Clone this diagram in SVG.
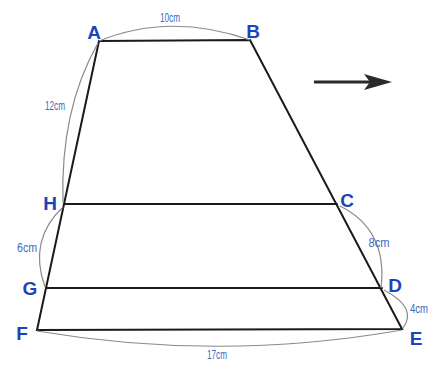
<svg xmlns="http://www.w3.org/2000/svg" width="438" height="372" viewBox="0 0 438 372">
<style>
.edge{stroke:#1a1a1a;stroke-width:2;fill:none;stroke-linecap:round}
.dim{stroke:#8a8a8a;stroke-width:1.2;fill:none}
.pt{font-family:"Liberation Sans",Arial,sans-serif;font-size:19px;font-weight:bold;fill:#1c44b8;text-anchor:middle}
.dl{font-family:"Liberation Sans",Arial,sans-serif;font-size:12px;fill:#3a68c4;text-anchor:middle}
</style>
<rect width="438" height="372" fill="#ffffff"/>
<g id="connectors">
<path class="edge" d="M99,41 L250,40 L402,329 L37,330 Z"/>
<line class="edge" x1="64" y1="204" x2="337" y2="204"/>
<line class="edge" x1="46" y1="288" x2="382" y2="288"/>
<path class="dim" d="M99,41 Q170,12 250,40"/>
<path class="dim" d="M98,43 Q60,110 63,203"/>
<path class="dim" d="M63,207 Q28,240 45,287"/>
<path class="dim" d="M340,206 Q388,230 381,288"/>
<path class="dim" d="M384,290 Q418,308 403,328"/>
<path class="dim" d="M37,331 Q220,362 402,330"/>
<line x1="314" y1="82" x2="380" y2="82" stroke="#2a2a2a" stroke-width="3"/>
<path d="M364,74 L392,82 L364,90 L370,82 Z" fill="#2a2a2a"/>
</g>
<g id="node-A"><text class="pt" x="94" y="39">A</text></g>
<g id="node-B"><text class="pt" x="253" y="38">B</text></g>
<g id="node-C"><text class="pt" x="347" y="207">C</text></g>
<g id="node-D"><text class="pt" x="395" y="292">D</text></g>
<g id="node-E"><text class="pt" x="416" y="345">E</text></g>
<g id="node-F"><text class="pt" x="22" y="340">F</text></g>
<g id="node-G"><text class="pt" x="30" y="295">G</text></g>
<g id="node-H"><text class="pt" x="50" y="210">H</text></g>
<g id="labels">
<text class="dl" x="170" y="22" textLength="20" lengthAdjust="spacingAndGlyphs">10cm</text>
<text class="dl" x="55" y="110" textLength="20" lengthAdjust="spacingAndGlyphs">12cm</text>
<text class="dl" x="27" y="252" textLength="20" lengthAdjust="spacingAndGlyphs">6cm</text>
<text class="dl" x="379" y="247" textLength="21" lengthAdjust="spacingAndGlyphs">8cm</text>
<text class="dl" x="419" y="313" textLength="18" lengthAdjust="spacingAndGlyphs">4cm</text>
<text class="dl" x="217" y="359" textLength="20" lengthAdjust="spacingAndGlyphs">17cm</text>
</g>
</svg>
